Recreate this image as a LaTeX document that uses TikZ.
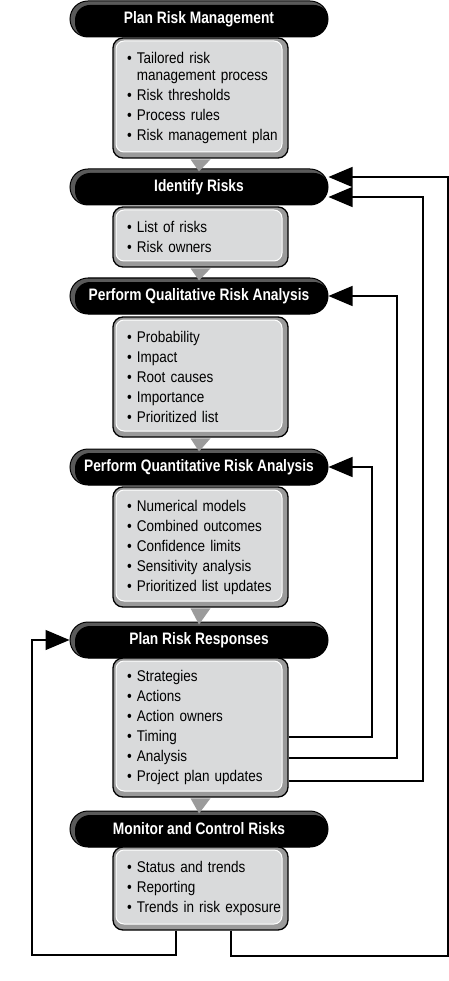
\documentclass[tikz,border=0pt]{standalone}
\usepackage{fontspec}
\setmainfont{Liberation Sans}[FakeStretch=0.87]
\newfontfamily\hdfont{Liberation Sans}[FakeStretch=0.83]
\usetikzlibrary{arrows.meta}
\definecolor{hdrgrey}{HTML}{5A5A5A}
\definecolor{boxlight}{HTML}{D9DADB}
\definecolor{boxdark}{HTML}{9A9A9A}
\definecolor{trigrey}{HTML}{9B9B9B}
\tikzset{
  hdr/.style={rounded corners=18pt, minimum width=258pt, minimum height=36pt, inner sep=0pt,
    fill=hdrgrey, draw=black, line width=1pt, text=white,
    font=\hdfont\bfseries\fontsize{16.6}{18}\selectfont,
    path picture={\fill[black, rounded corners=15pt]
      ([xshift=5pt,yshift=-1pt]path picture bounding box.south west) rectangle
      ([xshift=1pt,yshift=-4pt]path picture bounding box.north east);}},
  infobox/.style={rounded corners=10pt, minimum width=175pt, inner xsep=14pt, inner ysep=0pt,
    text width=147pt, align=left, fill=boxdark, draw=black, line width=1.3pt,
    font=\fontsize{15.5}{17}\selectfont,
    path picture={\fill[boxlight, draw=white, line width=1pt, rounded corners=8pt]
      ([xshift=3pt,yshift=6pt]path picture bounding box.south west) rectangle
      ([xshift=-6pt,yshift=-3pt]path picture bounding box.north east);}},
  tri/.style={fill=trigrey},
  conn/.style={draw=black, line width=1.3pt, -{Triangle[length=24pt,width=20pt]}},
}
\newcommand{\bl}[1]{\mbox{\textbullet\ #1}}
\newcommand{\blc}[1]{\mbox{\phantom{\textbullet\ }#1}}
\begin{document}
\begin{tikzpicture}[x=1pt,y=-1pt]
\useasboundingbox[fill=white] (0,0) rectangle (449,981);
% headers
\node[hdr] (h1) at (199,19) {Plan Risk Management};
\node[hdr] (h2) at (199,187) {Identify Risks};
\node[hdr] (h3) at (199,296) {Perform Qualitative Risk Analysis};
\node[hdr] (h4) at (199,467) {Perform Quantitative Risk Analysis};
\node[hdr] (h5) at (199,640) {Plan Risk Responses};
\node[hdr] (h6) at (199,829) {Monitor and Control Risks};
% boxes
\node[infobox, minimum height=120pt] (b1) at (200.5,98) {\bl{Tailored risk}\\\blc{management process}\\[3pt]\bl{Risk thresholds}\\[3pt]\bl{Process rules}\\[3pt]\bl{Risk management plan}};
\node[infobox, minimum height=60pt] (b2) at (200.5,237) {\bl{List of risks}\\[3pt]\bl{Risk owners}};
\node[infobox, minimum height=120pt] (b3) at (200.5,377) {\bl{Probability}\\[3pt]\bl{Impact}\\[3pt]\bl{Root causes}\\[3pt]\bl{Importance}\\[3pt]\bl{Prioritized list}};
\node[infobox, minimum height=120pt] (b4) at (200.5,547) {\bl{Numerical models}\\[3pt]\bl{Combined outcomes}\\[3pt]\bl{Confidence limits}\\[3pt]\bl{Sensitivity analysis}\\[3pt]\bl{Prioritized list updates}};
\node[infobox, minimum height=139pt] (b5) at (200.5,727.5) {\bl{Strategies}\\[3pt]\bl{Actions}\\[3pt]\bl{Action owners}\\[3pt]\bl{Timing}\\[3pt]\bl{Analysis}\\[3pt]\bl{Project plan updates}};
\node[infobox, minimum height=83pt] (b6) at (200.5,888.5) {\bl{Status and trends}\\[3pt]\bl{Reporting}\\[3pt]\bl{Trends in risk exposure}};
% triangles
\foreach \a/\b in {b1/h2, b2/h3, b3/h4, b4/h5, b5/h6}
  \fill[tri] ([xshift=-10pt,yshift=-0.7pt]\a.south) -- ([xshift=10pt,yshift=-0.7pt]\a.south) -- ([yshift=-3pt]\b.north) -- cycle;
% connectors
\coordinate (h2up) at ([yshift=10pt]h2.east);
\coordinate (h2lo) at ([yshift=-10pt]h2.east);
\coordinate (q) at (372,737);
\coordinate (a) at (397,758);
\coordinate (p) at (423,781);
\coordinate (r1) at (231,956);
\coordinate (r2) at (448,956);
\coordinate (l1) at (176,955);
\coordinate (l2) at (32,955);
\draw[conn] (b5.east |- q) -- (q) -- (q |- h4.east) -- (h4.east);
\draw[conn] (b5.east |- a) -- (a) -- (a |- h3.east) -- (h3.east);
\draw[conn] (b5.east |- p) -- (p) -- (p |- h2lo) -- (h2lo);
\draw[conn] (b6.south -| r1) -- (r1) -- (r2) -- (r2 |- h2up) -- (h2up);
\draw[conn] (b6.south -| l1) -- (l1) -- (l2) -- (l2 |- h5.west) -- (h5.west);
\end{tikzpicture}
\end{document}
